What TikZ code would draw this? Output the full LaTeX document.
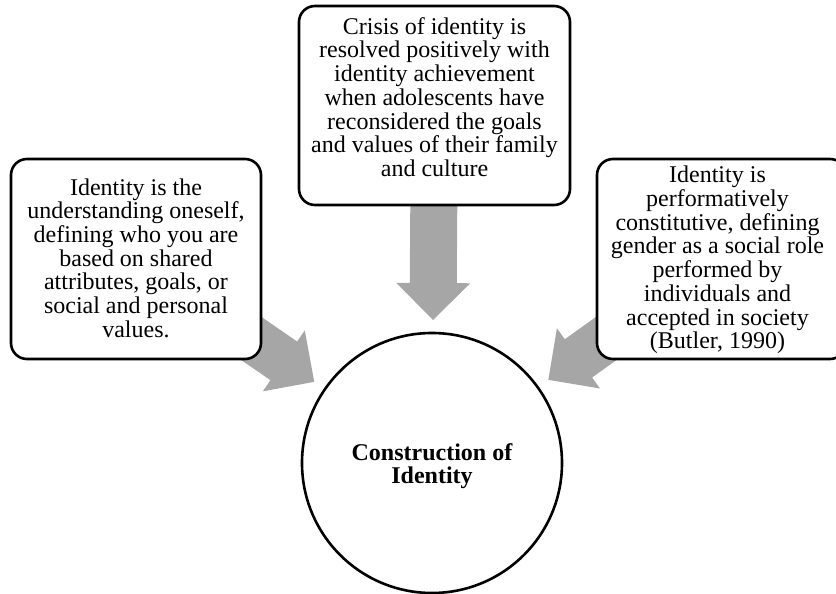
\documentclass[tikz,border=0pt]{standalone}
\usepackage{fontspec}
\setmainfont{Liberation Serif}
\usetikzlibrary{calc}
\definecolor{arrowgray}{HTML}{A6A6A6}
\tikzset{
  boxshape/.style={draw=black, fill=white, line width=2.6pt, rounded corners=16pt, inner sep=0pt},
  boxtext/.style={align=center, inner sep=0pt, font=\fontsize{24}{23.7}\selectfont},
  hubshape/.style={circle, draw=black, fill=white, line width=2.6pt, inner sep=0pt, minimum size=260pt},
  hubtext/.style={align=center, inner sep=0pt, font=\fontsize{24}{23.7}\selectfont\bfseries},
}
\newcommand\myblockarrow[2]{%
  \coordinate (tipA) at ($(#2)!143pt!(#1)$);
  \coordinate (hbA) at ($(#2)!180pt!(#1)$);
  \fill[arrowgray] ($(#1)!23.5pt!90:(hbA)$) -- ($(hbA)!23.5pt!-90:(#1)$) -- ($(hbA)!37pt!-90:(#1)$) -- (tipA)
    -- ($(hbA)!37pt!90:(#1)$) -- ($(hbA)!23.5pt!90:(#1)$) -- ($(#1)!23.5pt!-90:(hbA)$) -- cycle;
}
\begin{document}
\begin{tikzpicture}[x=1pt,y=1pt]
\useasboundingbox (0,0) rectangle (836,-594);
% anchor coordinates
\coordinate (Lc) at (136,-259);
\coordinate (Tc) at (434.5,-105.5);
\coordinate (Rc) at (717.5,-259);
\coordinate (Cc) at (432,-463);
% arrows (behind boxes)
\myblockarrow{Lc}{Cc}
\myblockarrow{Tc}{Cc}
\myblockarrow{Rc}{Cc}
% boxes
\node[boxshape, minimum width=250pt, minimum height=200pt] (L) at (Lc) {};
\node[boxshape, minimum width=271pt, minimum height=199pt] (T) at (Tc) {};
\node[boxshape, minimum width=249pt, minimum height=200pt] (R) at (721.5,-259) {};
\node[hubshape] (C) at (Cc) {};
% texts
\node[boxtext] (Ltext) at (136,-258) {Identity is the\\understanding oneself,\\defining who you are\\based on shared\\attributes, goals, or\\social and personal\\values.};
\node[boxtext] (Ttext) at (434.5,-97) {Crisis of identity is\\resolved positively with\\identity achievement\\when adolescents have\\reconsidered the goals\\and values of their family\\and culture};
\node[boxtext] (Rtext) at (717.5,-260) {Identity is\\performatively\\constitutive, defining\\gender as a social role\\performed by\\individuals and\\accepted in society\\(Butler, 1990)};
\node[hubtext] (Ctext) at (432,-466) {Construction of\\Identity};
\end{tikzpicture}
\end{document}
